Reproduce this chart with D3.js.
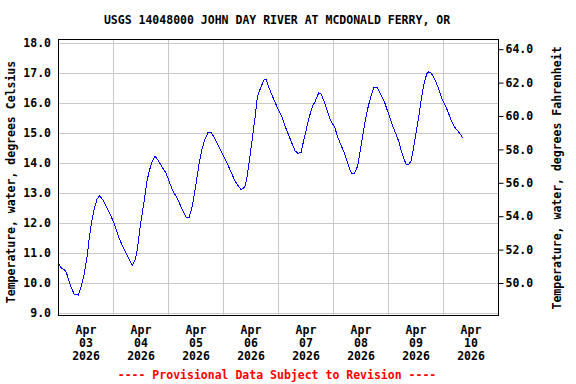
<!DOCTYPE html>
<html>
<head>
<meta charset="utf-8">
<script src="https://cdn.jsdelivr.net/npm/d3@7"></script>
<style>
  body { margin: 0; background: #fff; }
  svg { display: block; }
  text { font-family: "DejaVu Sans Mono", monospace; font-weight: bold; font-size: 11.5px; fill: #000; }
</style>
</head>
<body>
<div id="chart"></div>
<script>
// hours after Apr 03 2026 00:00, and water temperature (deg C)
const hours = [
  0, 1.2, 2.9, 3.8, 5.1, 6.0, 7.0, 8.7, 9.9, 11.3, 12.5, 13.5, 14.6, 15.7, 16.8, 17.9, 19.4, 20.8, 22.3,
  24.0, 25.9, 28.1, 30.1, 31.3, 32.2, 33.5, 34.5, 35.2, 36.0, 37.0, 37.8, 38.6, 39.6, 40.6, 42.1, 43.6, 45.4, 46.9,
  48.0, 49.7, 51.7, 53.7, 55.6, 57.0, 58.4, 59.6, 60.5, 61.5, 62.7, 63.9, 65.2, 66.6, 68.2, 70.0, 71.7,
  73.6, 75.5, 77.2, 79.7, 81.3, 82.3, 83.3, 84.2, 85.3, 85.8, 86.8, 88.0, 88.8, 89.8, 90.6, 91.6, 93.1, 94.6,
  96.0, 97.5, 98.9, 100.4, 101.8, 103.2, 104.4, 105.8, 106.9, 108.1, 109.5, 110.8, 112.0, 113.5, 114.6, 115.9, 117.1, 118.6,
  120.6, 122.0, 123.5, 125.0, 126.4, 127.9, 129.0, 130.5, 131.5, 132.7, 133.7, 134.8, 136.1, 137.6, 139.2, 140.7, 142.4, 143.9,
  145.6, 147.3, 148.6, 149.5, 150.5, 151.7, 152.9, 153.9, 154.9, 156.1, 157.3, 158.3, 159.5, 160.7, 161.4, 162.6, 164.1, 165.6, 167.0,
  168.4, 169.9, 171.4, 172.8, 174.3, 175.7, 176.5
];
const tempC = [
  10.64, 10.50, 10.42, 10.27, 9.94, 9.77, 9.61, 9.60, 9.88, 10.33, 10.88, 11.54, 12.10, 12.49, 12.79, 12.90, 12.76, 12.54, 12.32,
  12.04, 11.60, 11.20, 10.89, 10.73, 10.59, 10.78, 11.17, 11.61, 12.06, 12.55, 12.94, 13.39, 13.72, 13.99, 14.22, 14.07, 13.83, 13.66,
  13.44, 13.10, 12.83, 12.50, 12.19, 12.19, 12.55, 13.10, 13.54, 14.04, 14.48, 14.78, 15.00, 15.00, 14.81, 14.53, 14.26,
  13.98, 13.65, 13.37, 13.10, 13.19, 13.54, 14.09, 14.59, 15.26, 15.53, 16.20, 16.45, 16.60, 16.78, 16.76, 16.54, 16.26, 15.99,
  15.76, 15.54, 15.21, 14.93, 14.66, 14.40, 14.32, 14.33, 14.71, 15.10, 15.54, 15.88, 16.04, 16.32, 16.29, 16.04, 15.76, 15.43,
  15.16, 14.82, 14.55, 14.27, 13.94, 13.63, 13.63, 13.88, 14.33, 14.88, 15.32, 15.76, 16.15, 16.49, 16.49, 16.26, 15.99, 15.65,
  15.27, 14.95, 14.68, 14.42, 14.19, 13.94, 13.94, 14.08, 14.47, 15.02, 15.58, 16.13, 16.63, 16.96, 17.02, 16.99, 16.79, 16.52, 16.19,
  15.96, 15.71, 15.41, 15.19, 15.05, 14.91, 14.82
];
const celsiusTicks = [9, 10, 11, 12, 13, 14, 15, 16, 17, 18];
const fahrenheitTicks = [50, 52, 54, 56, 58, 60, 62, 64];
const dayStarts = ['2026-04-03', '2026-04-04', '2026-04-05', '2026-04-06', '2026-04-07', '2026-04-08', '2026-04-09', '2026-04-10'];

const title = 'USGS 14048000 JOHN DAY RIVER AT MCDONALD FERRY, OR';
const leftTitle = 'Temperature, water, degrees Celsius';
const rightTitle = 'Temperature, water, degrees Fahrenheit';
const footer = '---- Provisional Data Subject to Revision ----';

const width = 576, height = 384;
const plotLeft = 58.5, plotRight = 498.5, plotTop = 39.5, plotBottom = 315.5;

const parseDay = d3.timeParse('%Y-%m-%d');
const start = parseDay(dayStarts[0]);
const end = d3.timeDay.offset(start, 8);
const data = hours.map((h, i) => ({ t: new Date(start.getTime() + h * 3600e3), v: tempC[i] }));

const x = d3.scaleTime().domain([start, end]).range([plotLeft, plotRight]);
const y = d3.scaleLinear().domain([8.92, 18.1]).range([plotBottom, plotTop]);
const yF = d3.scaleLinear().domain(y.domain().map(c => c * 1.8 + 32)).range([plotBottom, plotTop]);

const svg = d3.select('#chart').append('svg')
  .attr('width', width)
  .attr('height', height);

// grid
svg.append('g')
  .selectAll('line')
  .data(celsiusTicks)
  .enter().append('line')
  .attr('x1', plotLeft).attr('x2', plotRight)
  .attr('y1', d => Math.round(y(d)) + 0.5).attr('y2', d => Math.round(y(d)) + 0.5)
  .attr('stroke', '#c8c8c8');

svg.append('g')
  .selectAll('line')
  .data(dayStarts.slice(1).map(parseDay))
  .enter().append('line')
  .attr('x1', d => x(d)).attr('x2', d => x(d))
  .attr('y1', plotTop).attr('y2', plotBottom)
  .attr('stroke', '#c8c8c8');

// data line
const line = d3.line()
  .x(d => x(d.t))
  .y(d => y(d.v));

svg.append('path')
  .datum(data)
  .attr('fill', 'none')
  .attr('stroke', '#0000ff')
  .attr('stroke-width', 1)
  .attr('shape-rendering', 'crispEdges')
  .attr('d', line);

// frame
svg.append('rect')
  .attr('x', plotLeft).attr('y', plotTop)
  .attr('width', plotRight - plotLeft).attr('height', plotBottom - plotTop)
  .attr('fill', 'none')
  .attr('stroke', '#000');

// left axis labels
svg.append('g')
  .selectAll('text')
  .data(celsiusTicks)
  .enter().append('text')
  .attr('x', 51)
  .attr('y', d => y(d))
  .attr('dy', '0.35em')
  .attr('text-anchor', 'end')
  .text(d3.format('.1f'));

// right axis
const rightAxis = svg.append('g')
  .attr('transform', `translate(${plotRight},0)`)
  .call(d3.axisRight(yF).tickValues(fahrenheitTicks).tickSize(5).tickPadding(2).tickFormat(d3.format('.1f')));
rightAxis.select('.domain').remove();
rightAxis.selectAll('text')
  .attr('font-family', null).attr('font-size', null).attr('fill', null);
rightAxis.attr('font-family', null).attr('font-size', null);
rightAxis.selectAll('line').attr('stroke', '#000');

// x labels at noon
const fmtMon = d3.timeFormat('%b'), fmtDay = d3.timeFormat('%d'), fmtYear = d3.timeFormat('%Y');
const xLabel = svg.append('g')
  .selectAll('text')
  .data(dayStarts.map(parseDay))
  .enter().append('text')
  .attr('text-anchor', 'middle')
  .attr('transform', d => `translate(${x(d3.timeHour.offset(d, 12))},0)`);
xLabel.append('tspan').attr('x', 0).attr('y', 334).text(fmtMon);
xLabel.append('tspan').attr('x', 0).attr('y', 347).text(fmtDay);
xLabel.append('tspan').attr('x', 0).attr('y', 360).text(fmtYear);

// titles
svg.append('text')
  .attr('x', 277).attr('y', 24)
  .attr('text-anchor', 'middle')
  .text(title);

svg.append('text')
  .attr('transform', 'translate(15,182) rotate(-90)')
  .attr('text-anchor', 'middle')
  .text(leftTitle);

svg.append('text')
  .attr('transform', 'translate(561,178) rotate(-90)')
  .attr('text-anchor', 'middle')
  .text(rightTitle);

svg.append('text')
  .attr('x', 277).attr('y', 379)
  .attr('text-anchor', 'middle')
  .style('fill', '#ff0000')
  .text(footer);
</script>
</body>
</html>
